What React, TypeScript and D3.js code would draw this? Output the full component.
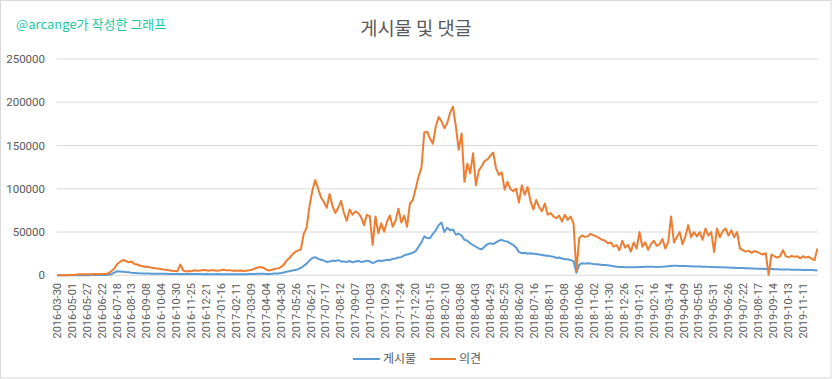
import React from 'react';
import * as d3 from 'd3';

const tickLabels = [
  '2016-03-30', '2016-05-01', '2016-05-27', '2016-06-22', '2016-07-18', '2016-08-13', '2016-09-08',
  '2016-10-04', '2016-10-30', '2016-11-25', '2016-12-21', '2017-01-16', '2017-02-11', '2017-03-09',
  '2017-04-04', '2017-04-30', '2017-05-26', '2017-06-21', '2017-07-17', '2017-08-12', '2017-09-07',
  '2017-10-03', '2017-10-29', '2017-11-24', '2017-12-20', '2018-01-15', '2018-02-10', '2018-03-08',
  '2018-04-03', '2018-04-29', '2018-05-25', '2018-06-20', '2018-07-16', '2018-08-11', '2018-09-08',
  '2018-10-06', '2018-11-02', '2018-11-30', '2018-12-26', '2019-01-21', '2019-02-16', '2019-03-14',
  '2019-04-09', '2019-05-05', '2019-05-31', '2019-06-26', '2019-07-22', '2019-08-17', '2019-09-14',
  '2019-10-13', '2019-11-11',
];

// 게시물 (posts), one value every 5 categories
const posts = [
  20, 30, 40, 50, 50, 60, 80, 150, 200, 200,
  200, 200, 250, 250, 250, 300, 300, 300, 600, 1500,
  3000, 4800, 4500, 4200, 3800, 3500, 3000, 2800, 2500, 2300,
  2200, 2100, 2000, 1900, 1900, 1800, 1800, 1700, 1700, 1600,
  1600, 1500, 1500, 1500, 1500, 1400, 1400, 1400, 1400, 1400,
  1400, 1300, 1400, 1300, 1300, 1300, 1400, 1300, 1300, 1300,
  1300, 1200, 1300, 1200, 1200, 1300, 1300, 1400, 1500, 1600,
  1700, 1800, 1700, 1600, 1500, 1700, 2000, 2200, 2600, 3200,
  4000, 4800, 5500, 6000, 7000, 8500, 11000, 13500, 17000, 20000,
  21000, 19000, 18000, 17000, 15500, 16000, 17000, 16500, 17500, 16000,
  16000, 15500, 16500, 15000, 16000, 16500, 15500, 16000, 17000, 16000,
  14000, 15500, 17000, 16500, 17000, 18000, 17500, 19000, 19500, 20500,
  21000, 23000, 24000, 25000, 26000, 28000, 33000, 38000, 45000, 43000,
  42800, 48000, 52000, 58000, 61000, 50000, 55000, 52000, 53000, 47000,
  48000, 46000, 41000, 40000, 37000, 35000, 33000, 31000, 30000, 33000,
  36000, 37000, 36000, 38000, 40000, 41000, 39500, 39000, 37000, 35000,
  32000, 27000, 25500, 26000, 25000, 25500, 25000, 24500, 24000, 23500,
  23000, 22500, 22000, 21500, 20000, 20500, 19500, 18500, 18500, 17500,
  16500, 3000, 12000, 14000, 13500, 13800, 13500, 13000, 12800, 12500,
  12000, 11800, 11500, 11000, 10500, 10000, 9500, 9500, 9200, 9200,
  9200, 9300, 9400, 9500, 9600, 9800, 10000, 10000, 9800, 9700,
  9800, 10000, 10200, 10500, 10800, 11000, 11000, 10800, 10800, 10700,
  10500, 10400, 10300, 10200, 10200, 10000, 10000, 9800, 9700, 9500,
  9400, 9300, 9200, 9000, 8900, 8800, 8700, 8500, 8400, 8300,
  8200, 8100, 8000, 7800, 7700, 7600, 7500, 7400, 7300, 7200,
  7000, 6900, 6800, 6800, 6700, 6600, 6500, 6500, 6400, 6300,
  6200, 6100, 6000, 6000, 5800, 5500,
];

// 의견 (comments), one value every 5 categories
const comments = [
  100, 150, 200, 200, 250, 300, 400, 900, 1100, 1200,
  1200, 1300, 1200, 1400, 1300, 1500, 1400, 1600, 2500, 5000,
  8000, 13000, 15700, 17600, 16500, 15000, 16000, 13000, 12500, 11000,
  10500, 9500, 9800, 8600, 8200, 7800, 7200, 6600, 6400, 5900,
  5200, 5000, 4800, 12500, 5500, 4500, 5000, 4800, 5800, 5200,
  5500, 6200, 5800, 5200, 6000, 5600, 5300, 5800, 6300, 5700,
  5800, 5400, 5600, 5200, 5500, 5000, 5300, 5800, 6500, 7800,
  9000, 9500, 8500, 6500, 5500, 6500, 7500, 8000, 9500, 12000,
  17000, 20000, 24000, 27000, 28500, 30000, 48000, 55000, 80000, 98000,
  110000, 100000, 90000, 85000, 78000, 94000, 80000, 72000, 78000, 86000,
  72000, 63000, 76000, 70000, 74000, 72000, 67000, 58000, 70000, 68000,
  35000, 68000, 48500, 60000, 50400, 62000, 69000, 56000, 63000, 77000,
  61000, 69000, 56000, 83000, 87000, 100000, 114000, 124000, 165000, 166000,
  158000, 152000, 172000, 183000, 178000, 170000, 176000, 188000, 195000, 172000,
  145000, 164000, 108000, 129000, 118000, 141000, 104000, 121000, 126000, 132000,
  134000, 138000, 142000, 124000, 116000, 119000, 99000, 108000, 100000, 97000,
  100000, 84000, 104000, 93000, 102000, 86000, 76000, 87000, 79000, 74000,
  83000, 70000, 72000, 68000, 66000, 69000, 62000, 70000, 64000, 68000,
  60000, 5000, 43000, 46000, 44500, 45000, 48000, 46000, 45000, 43000,
  41000, 40000, 37000, 38000, 33000, 35000, 29000, 40000, 32000, 35000,
  27500, 38000, 31000, 50000, 33000, 38000, 29500, 36000, 40000, 34000,
  36000, 42000, 31000, 38000, 68000, 38000, 44000, 50000, 36000, 45000,
  58000, 44000, 50000, 45000, 50000, 41000, 54000, 46000, 50000, 27000,
  54000, 44000, 51000, 54000, 46000, 52000, 44000, 50000, 31000, 29000,
  27300, 28500, 26000, 28000, 27000, 25400, 24000, 25500, 500, 24000,
  22000, 20500, 22000, 29000, 22000, 21000, 22500, 21500, 22000, 19600,
  22000, 20500, 21500, 19000, 17700, 31000,
];

const seriesNames = ['게시물', '의견'];
const seriesColors = ['#5b9bd5', '#ed7d31'];
const yTicks = [0, 50000, 100000, 150000, 200000, 250000];
const categoryCount = 1326;
const sampleStep = 5;
const tickEvery = 26;
const titleText = '게시물 및 댓글';
const creditText = '@arcange가 작성한 그래프';

export default function App() {
  const W = 832;
  const H = 379;
  const left = 56.7;
  const right = 817.7;
  const top = 59;
  const bottom = 275.3;

  const x = d3.scaleLinear().domain([-0.5, categoryCount - 0.5]).range([left, right]);
  const y = d3.scaleLinear().domain([0, 250000]).range([bottom, top]);
  const line = d3
    .line<number>()
    .x((_, i) => x(i * sampleStep))
    .y((d) => y(d));

  const axisFont = 'Roboto, "Liberation Sans", sans-serif';
  const krFont = '"Noto Sans CJK KR", "Noto Sans", sans-serif';
  const textColor = '#595959';

  return (
    <svg
      width={W}
      height={H}
      style={{ position: 'absolute', left: 0, top: 0, display: 'block', background: '#fff' }}
    >
      <rect x={0.5} y={0.5} width={W - 1.5} height={H - 1.5} fill="#fff" stroke="#d9d9d9" />
      <text x={16} y={29} fontFamily={krFont} fontSize={13} fill="#1cc7a1">
        {creditText}
      </text>
      <text x={416} y={35} textAnchor="middle" fontFamily={krFont} fontSize={18.7} fill={textColor}>
        {titleText}
      </text>
      {yTicks.map((t) => (
        <g key={t}>
          <line x1={left} x2={right} y1={y(t)} y2={y(t)} stroke="#d9d9d9" strokeWidth={1} />
          <text
            x={45}
            y={y(t)}
            dy="0.35em"
            textAnchor="end"
            fontFamily={axisFont}
            fontSize={11.5}
            fill={textColor}
          >
            {t}
          </text>
        </g>
      ))}
      {tickLabels.map((lab, i) => (
        <text
          key={lab}
          transform={`translate(${x(i * tickEvery)},283) rotate(-90)`}
          dy="0.35em"
          textAnchor="end"
          fontFamily={axisFont}
          fontSize={11}
          fill={textColor}
        >
          {lab}
        </text>
      ))}
      <path d={line(posts) || ''} fill="none" stroke={seriesColors[0]} strokeWidth={2} strokeLinejoin="round" />
      <path d={line(comments) || ''} fill="none" stroke={seriesColors[1]} strokeWidth={2} strokeLinejoin="round" />
      <g>
        <line x1={353} x2={380} y1={359} y2={359} stroke={seriesColors[0]} strokeWidth={2} />
        <text x={383} y={359} dy="0.35em" fontFamily={krFont} fontSize={12} fill={textColor}>
          {seriesNames[0]}
        </text>
        <line x1={430} x2={456} y1={359} y2={359} stroke={seriesColors[1]} strokeWidth={2} />
        <text x={459} y={359} dy="0.35em" fontFamily={krFont} fontSize={12} fill={textColor}>
          {seriesNames[1]}
        </text>
      </g>
    </svg>
  );
}
